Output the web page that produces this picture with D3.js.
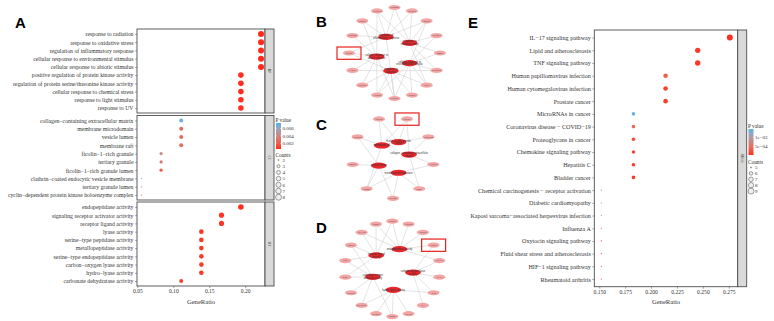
<!DOCTYPE html>
<html>
<head>
<meta charset="utf-8">
<script src="https://cdn.jsdelivr.net/npm/d3@7"></script>
<style>
  body { margin: 0; background: #fff; }
  svg { display: block; }
  text { font-family: "Liberation Serif", "Times New Roman", serif; }
</style>
</head>
<body>
<svg id="fig" width="774" height="321"></svg>
<script>
// ---- panel A : GO enrichment ----
const bpTerms = ['response to radiation', 'response to oxidative stress', 'regulation of inflammatory response',
  'cellular response to environmental stimulus', 'cellular response to abiotic stimulus',
  'positive regulation of protein kinase activity', 'regulation of protein serine/threonine kinase activity',
  'cellular response to chemical stress', 'response to light stimulus', 'response to UV'];
const bpRatio = [0.222, 0.222, 0.222, 0.222, 0.222, 0.194, 0.194, 0.194, 0.194, 0.194];
const bpCount = [8, 8, 8, 8, 8, 7, 7, 7, 7, 7];
const bpP = [0.0004, 0.0004, 0.0004, 0.0004, 0.0004, 0.0005, 0.0005, 0.0005, 0.0005, 0.0005];

const ccTerms = ['collagen\u2212containing extracellular matrix', 'membrane microdomain', 'vesicle lumen', 'membrane raft',
  'ficolin\u22121\u2212rich granule', 'tertiary granule', 'ficolin\u22121\u2212rich granule lumen',
  'clathrin\u2212coated endocytic vesicle membrane', 'tertiary granule lumen',
  'cyclin\u2212dependent protein kinase holoenzyme complex'];
const ccRatio = [0.111, 0.111, 0.111, 0.111, 0.083, 0.083, 0.083, 0.056, 0.056, 0.056];
const ccCount = [4, 4, 4, 4, 3, 3, 3, 2, 2, 2];
const ccP = [0.0070, 0.0026, 0.0026, 0.0028, 0.0042, 0.0034, 0.0018, 0.0068, 0.0030, 0.0030];

const mfTerms = ['endopeptidase activity', 'signaling receptor activator activity', 'receptor ligand activity',
  'lyase activity', 'serine\u2212type peptidase activity', 'metallopeptidase activity',
  'serine\u2212type endopeptidase activity', 'carbon\u2212oxygen lyase activity', 'hydro\u2212lyase activity',
  'carbonate dehydratase activity'];
const mfRatio = [0.194, 0.167, 0.167, 0.139, 0.139, 0.139, 0.139, 0.139, 0.139, 0.111];
const mfCount = [7, 6, 6, 5, 5, 5, 5, 5, 5, 4];
const mfP = [0.0005, 0.0006, 0.0006, 0.0006, 0.0007, 0.0007, 0.0007, 0.0007, 0.0007, 0.0008];

const goFacets = ['BP', 'CC', 'MF'];
const goTicks = [0.05, 0.10, 0.15, 0.20];
const goPTicks = [0.002, 0.004, 0.006];
const goCountLevels = [2, 3, 4, 5, 6, 7, 8];

// ---- panel E : KEGG enrichment ----
const keggTerms = ['IL\u221217 signaling pathway', 'Lipid and atherosclerosis', 'TNF signaling pathway',
  'Human papillomavirus infection', 'Human cytomegalovirus infection', 'Prostate cancer',
  'MicroRNAs in cancer', 'Coronavirus disease \u2212 COVID\u221219', 'Proteoglycans in cancer',
  'Chemokine signaling pathway', 'Hepatitis C', 'Bladder cancer',
  'Chemical carcinogenesis \u2212 receptor activation', 'Diabetic cardiomyopathy',
  'Kaposi sarcoma\u2212associated herpesvirus infection', 'Influenza A', 'Oxytocin signaling pathway',
  'Fluid shear stress and atherosclerosis', 'HIF\u22121 signaling pathway', 'Rheumatoid arthritis'];
const keggRatio = [0.276, 0.245, 0.245, 0.214, 0.214, 0.214, 0.183, 0.183, 0.183, 0.183, 0.183, 0.183,
  0.152, 0.152, 0.152, 0.152, 0.152, 0.152, 0.152, 0.152];
const keggCount = [9, 8, 8, 7, 7, 7, 6, 6, 6, 6, 6, 6, 5, 5, 5, 5, 5, 5, 5, 5];
const keggP = [0.00008, 0.00012, 0.00012, 0.00040, 0.00016, 0.00016, 0.00138, 0.00045, 0.00022, 0.00018,
  0.00014, 0.00012, 0.00140, 0.00115, 0.00085, 0.00030, 0.00028, 0.00028, 0.00030, 0.00040];
const keggTicks = [0.150, 0.175, 0.200, 0.225, 0.250, 0.275];
const keggPTicks = [0.0005, 0.001];
const keggPLabels = ['5e\u221204', '1e\u221203'];
const keggCountLevels = [5, 6, 7, 8, 9];

// ---- networks B, C, D (gene ring + enriched terms) ----
const netBGenes = ['PTGDS', 'CXCL8', 'EGR1', 'CXCR4', 'ESR1', 'CX3CL1', 'IRF1', 'MMP1', 'MMP2', 'ALOX5',
  'MMP3', 'IFNG', 'MMP9', 'PTGS2', 'NQO1', 'HMOX1'];
const netBTerms = ['regulation of inflammatory response', 'response to oxidative stress',
  'cellular response to abiotic stimulus', 'cellular response to environmental stimulus', 'response to radiation'];
const netBSets = [[12, 13, 14, 15, 0, 1, 2, 8], [15, 0, 1, 2, 3, 4, 5, 6], [8, 9, 10, 11, 12, 13, 14, 15],
  [2, 3, 4, 5, 6, 7, 8, 9], [5, 6, 7, 8, 9, 10, 11, 12]];

const netCGenes = ['MMP9', 'PCOLCE', 'ALOX5', 'EGF', 'CHGB', 'CTSD', 'EGFR', 'PTGDS', 'MMP2'];
const netCTerms = ['ficolin\u22121\u2212rich granule lumen', 'membrane raft',
  'collagen\u2212containing extracellular matrix', 'vesicle lumen', 'membrane microdomain'];
const netCSets = [[8, 0, 1], [5, 7, 8, 0], [0, 1, 2, 3], [4, 5, 6, 7], [2, 3, 4, 5]];

const netDGenes = ['MMP1', 'MMP3', 'MMP8', 'MMP9', 'PLAU', 'CA1', 'CA2', 'CA4', 'CA12', 'CTSG', 'CXCL3',
  'CXCL10', 'CXCL2', 'EGF', 'FN1', 'SPP1', 'ADAM8', 'CTSL'];
const netDTerms = ['endopeptidase activity', 'receptor ligand activity', 'carbon\u2212oxygen lyase activity',
  'signaling receptor activator activity', 'hydro\u2212lyase activity'];
const netDSets = [[16, 17, 0, 1, 2, 3, 4], [13, 14, 15, 16, 17, 0], [3, 4, 5, 6, 7],
  [9, 11, 12, 13, 14, 15], [6, 8, 9, 10, 11]];
const hubGene = 'MMP9';

const svg = d3.select('#fig');
const RED = '#ff2a1c', BLUE = '#49b6ec';
const INK = '#333333', FRAME = '#4d4d4d';

function sizeScale(levels) {
  const lo = d3.min(levels), hi = d3.max(levels);
  return c => 0.6 + Math.sqrt((c - lo) / (hi - lo)) * 2.4;
}

function colorScale(domain) {
  const t = d3.scaleLinear().domain(domain).range([0, 1]).clamp(true);
  const interp = d3.interpolateLab(RED, BLUE);
  return p => interp(t(p));
}

function panelLetter(txt, x, y) {
  svg.append('text').attr('x', x).attr('y', y).text(txt)
    .style('font-family', '"Liberation Sans", Arial, sans-serif')
    .style('font-weight', 'bold').style('font-size', '15px');
}

// draws one facet: frame, dots, y labels, strip
function drawFacet(g, terms, ratio, count, pvals, x, y0, y1, strip, color, size, fontSize) {
  const [xl, xr] = x.range();
  const y = d3.scalePoint().domain(terms).range([y0, y1]).padding(0.6);

  g.append('rect').attr('x', xl).attr('y', y0).attr('width', xr - xl).attr('height', y1 - y0)
    .attr('fill', '#fff');

  g.selectAll('circle.dot').data(terms).enter().append('circle')
    .attr('class', 'dot')
    .attr('cx', (d, i) => x(ratio[i]))
    .attr('cy', d => y(d))
    .attr('r', (d, i) => size(count[i]))
    .attr('fill', (d, i) => color(pvals[i]));

  const ax = g.append('g').attr('transform', `translate(${xl},0)`)
    .call(d3.axisLeft(y).tickSize(2).tickPadding(1.5));
  ax.select('.domain').remove();
  ax.selectAll('line').attr('stroke', FRAME).attr('stroke-width', 0.5);
  ax.selectAll('text').style('font-size', fontSize + 'px').attr('fill', INK)
    .style('font-family', '"Liberation Serif", serif');

  g.append('rect').attr('x', xl).attr('y', y0).attr('width', xr - xl).attr('height', y1 - y0)
    .attr('fill', 'none').attr('stroke', FRAME).attr('stroke-width', 0.9);

  g.append('rect').attr('x', xr).attr('y', y0).attr('width', 9).attr('height', y1 - y0)
    .attr('fill', '#d9d9d9').attr('stroke', FRAME).attr('stroke-width', 0.9);
  g.append('text').attr('transform', `translate(${xr + 4.5},${(y0 + y1) / 2}) rotate(90)`)
    .attr('text-anchor', 'middle').attr('dy', '0.35em')
    .style('font-size', '3.4px').attr('fill', INK).text(strip);
}

function drawXAxis(x, yPos, ticks, fmt, titleY) {
  const ax = svg.append('g').attr('transform', `translate(0,${yPos})`)
    .call(d3.axisBottom(x).tickValues(ticks).tickFormat(d3.format(fmt)).tickSize(2).tickPadding(1.5));
  ax.select('.domain').remove();
  ax.selectAll('line').attr('stroke', FRAME).attr('stroke-width', 0.5);
  ax.selectAll('text').style('font-size', '5.6px').attr('fill', INK)
    .style('font-family', '"Liberation Serif", serif');
  const [a, b] = x.range();
  svg.append('text').attr('x', (a + b) / 2).attr('y', titleY).attr('text-anchor', 'middle')
    .style('font-size', '6.6px').attr('fill', INK).text('GeneRatio');
}

function drawLegend(lx, ly, pDomain, pTicks, pLabels, levels, size, color, countTop, countStep, id) {
  svg.append('text').attr('x', lx).attr('y', ly).style('font-size', '5.3px').attr('fill', INK).text('P value');
  const barTop = ly + 1.5, barH = 26;
  const grad = svg.append('defs').append('linearGradient').attr('id', id)
    .attr('x1', 0).attr('y1', 1).attr('x2', 0).attr('y2', 0);
  d3.range(0, 1.01, 0.1).forEach(t => {
    const p = pDomain[0] + t * (pDomain[1] - pDomain[0]);
    grad.append('stop').attr('offset', t).attr('stop-color', color(p));
  });
  svg.append('rect').attr('x', lx + 0.5).attr('y', barTop).attr('width', 5).attr('height', barH)
    .attr('fill', `url(#${id})`);
  const py = d3.scaleLinear().domain(pDomain).range([barTop + barH, barTop]);
  pTicks.forEach((p, i) => {
    svg.append('line').attr('x1', lx + 0.5).attr('x2', lx + 1.5).attr('y1', py(p)).attr('y2', py(p))
      .attr('stroke', '#fff').attr('stroke-width', 0.4);
    svg.append('line').attr('x1', lx + 4.5).attr('x2', lx + 5.5).attr('y1', py(p)).attr('y2', py(p))
      .attr('stroke', '#fff').attr('stroke-width', 0.4);
    svg.append('text').attr('x', lx + 7).attr('y', py(p)).attr('dy', '0.35em')
      .style('font-size', '5px').attr('fill', INK).text(pLabels[i]);
  });

  svg.append('text').attr('x', lx).attr('y', countTop - 3.2).style('font-size', '5.3px').attr('fill', INK).text('Counts');
  levels.forEach((c, i) => {
    const cy = countTop + i * countStep;
    svg.append('circle').attr('cx', lx + 3).attr('cy', cy).attr('r', size(c))
      .attr('fill', '#bdbdbd').attr('fill-opacity', 0.25).attr('stroke', '#555').attr('stroke-width', 0.55);
    svg.append('text').attr('x', lx + 7).attr('y', cy).attr('dy', '0.35em')
      .style('font-size', '5px').attr('fill', INK).text(c);
  });
}

// ---------- Panel A ----------
panelLetter('A', 15, 28);
const goX = d3.scaleLinear().domain([0.0495, 0.2275]).range([137, 265]);
const goColor = colorScale([0.0004, 0.0075]);
const goSize = sizeScale(goCountLevels);
const goBands = [[29, 113], [115.5, 200], [202, 286]];
const goSets = [[bpTerms, bpRatio, bpCount, bpP], [ccTerms, ccRatio, ccCount, ccP], [mfTerms, mfRatio, mfCount, mfP]];
goSets.forEach((s, k) => {
  drawFacet(svg.append('g'), s[0], s[1], s[2], s[3], goX, goBands[k][0], goBands[k][1], goFacets[k], goColor, goSize, 5.75);
});
drawXAxis(goX, 286, goTicks, '.2f', 304);
drawLegend(275.5, 121.5, [0.0004, 0.0075], goPTicks, goPTicks.map(d3.format('.3f')), goCountLevels, goSize, goColor, 160, 6.2, 'gradA');

// ---------- Panel E ----------
panelLetter('E', 468, 28);
const keggX = d3.scaleLinear().domain([0.1452, 0.2836]).range([594.3, 737.7]);
const keggColor = colorScale([0.00006, 0.00144]);
const keggSize = sizeScale(keggCountLevels);
drawFacet(svg.append('g'), keggTerms, keggRatio, keggCount, keggP, keggX, 30, 286.7, 'KEGG', keggColor, keggSize, 6.1);
drawXAxis(keggX, 286.7, keggTicks, '.3f', 304);
drawLegend(748, 127.5, [0.00006, 0.00144], keggPTicks, keggPLabels, keggCountLevels, keggSize, keggColor, 167.5, 5.9, 'gradE');

// ---------- Networks ----------
function splitLabel(s) {
  const w = s.split(' ');
  if (w.length < 3) return [s];
  const h = Math.ceil(w.length / 2);
  return [w.slice(0, h).join(' '), w.slice(h).join(' ')];
}

// genes sit on a ring; each term sits on an inner ring, in the direction of the centroid of its genes
function drawNetwork(letter, lx, ly, cx, cy, r, startDeg, genes, terms, sets, innerFrac) {
  panelLetter(letter, lx, ly);
  const g = svg.append('g');
  const step = 360 / genes.length;
  const geneNodes = genes.map((name, i) => {
    const a = (startDeg + i * step) * Math.PI / 180;
    return { id: name, gene: true, x: cx + r * Math.sin(a), y: cy - r * Math.cos(a) };
  });
  const termNodes = terms.map((t, k) => {
    const members = sets[k].map(i => geneNodes[i]);
    const dx = d3.mean(members, d => d.x) - cx, dy = d3.mean(members, d => d.y) - cy;
    const len = Math.hypot(dx, dy) || 1;
    return { id: t, gene: false, x: cx + dx / len * r * innerFrac, y: cy + dy / len * r * innerFrac };
  });
  const links = [];
  sets.forEach((s, k) => s.forEach(i => links.push({ source: termNodes[k], target: geneNodes[i] })));
  const nodes = geneNodes.concat(termNodes);

  g.selectAll('line').data(links).enter().append('line')
    .attr('x1', d => d.source.x).attr('y1', d => d.source.y)
    .attr('x2', d => d.target.x).attr('y2', d => d.target.y)
    .attr('stroke', '#c9c9c9').attr('stroke-width', 0.5);

  const node = g.selectAll('g.node').data(nodes).enter().append('g')
    .attr('transform', d => `translate(${d.x},${d.y})`);
  node.append('ellipse')
    .attr('rx', d => d.gene ? 6 : 7.8).attr('ry', d => d.gene ? 2.6 : 3.1)
    .attr('fill', d => d.gene ? '#f5a4a4' : '#e8262b');
  node.filter(d => d.gene).append('text').attr('text-anchor', 'middle').attr('dy', '0.35em')
    .style('font-family', '"Liberation Sans", Arial, sans-serif')
    .style('font-size', '2.4px').attr('fill', '#555').text(d => d.id);
  node.filter(d => !d.gene).each(function (d) {
    const lines = splitLabel(d.id);
    const t = d3.select(this).append('text').attr('text-anchor', 'middle')
      .style('font-family', '"Liberation Sans", Arial, sans-serif')
      .style('font-size', '2.6px').attr('fill', '#333');
    lines.forEach((ln, i) => {
      t.append('tspan').attr('x', 0).attr('y', (i - (lines.length - 1) / 2) * 2.8 + 0.9).text(ln);
    });
  });

  const hub = geneNodes.find(d => d.id === hubGene);
  g.append('rect').attr('x', hub.x - 12).attr('y', hub.y - 6).attr('width', 24).attr('height', 12.3)
    .attr('fill', 'none').attr('stroke', '#e8201c').attr('stroke-width', 1.2);
}

drawNetwork('B', 316, 27, 394.5, 53, 45.5, 0, netBGenes, netBTerms, netBSets, 0.4);
drawNetwork('C', 316, 130, 393, 157.4, 40.9, 20, netCGenes, netCTerms, netCSets, 0.4);
drawNetwork('D', 316, 233, 392.3, 268.9, 47.7, 0, netDGenes, netDTerms, netDSets, 0.44);
</script>
</body>
</html>
